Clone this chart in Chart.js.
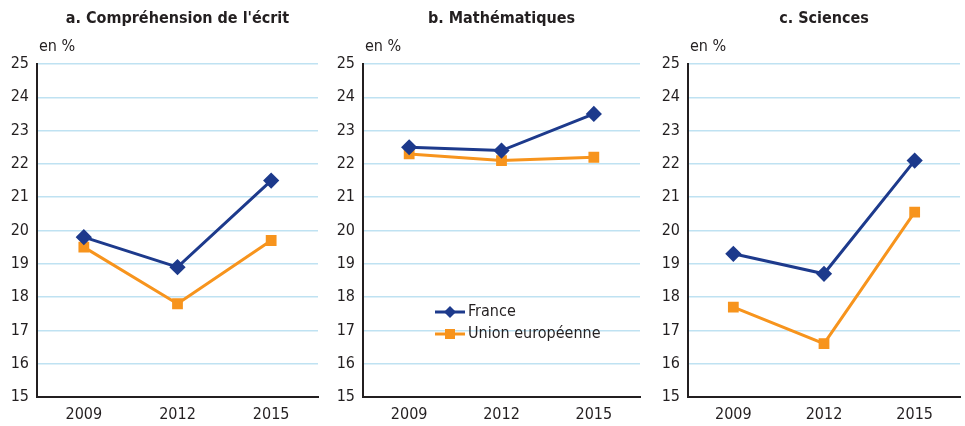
<!DOCTYPE html>
<html>
<head>
<meta charset="utf-8">
<script src="https://cdn.jsdelivr.net/npm/chart.js@4/dist/chart.umd.min.js"></script>
<style>
  html, body { margin: 0; padding: 0; background: #fff; }
  body { width: 965px; height: 426px; position: relative; overflow: hidden; }
  .panel { position: absolute; top: 0; height: 426px; }
</style>
</head>
<body>
<div class="panel" style="left:0;width:327px"><canvas id="g1"></canvas></div>
<div class="panel" style="left:325px;width:324px"><canvas id="g2"></canvas></div>
<div class="panel" style="left:650px;width:319px"><canvas id="g3"></canvas></div>
<script>
const annees = ["2009", "2012", "2015"];
const titres = ["a. Compréhension de l'écrit", "b. Mathématiques", "c. Sciences"];

const franceLecture = [19.8, 18.9, 21.5];
const ueLecture = [19.5, 17.8, 19.7];
const franceMaths = [22.5, 22.4, 23.5];
const ueMaths = [22.3, 22.1, 22.2];
const franceSciences = [19.3, 18.7, 22.1];
const ueSciences = [17.7, 16.6, 20.55];

const police = "'Liberation Sans Narrow', 'Arial Narrow', 'DejaVu Sans Condensed', sans-serif";
const bleu = "#1d3a8c";
const orange = "#f7941d";

// titre du panneau, "en %" et légende (panneau b)
const decor = {
  id: "decor",
  afterDraw(chart, args, opts) {
    const c = chart.ctx;
    const a = chart.chartArea;
    c.save();
    c.fillStyle = "#231f20";
    c.font = "bold 16px " + police;
    c.textAlign = "center";
    c.textBaseline = "middle";
    c.fillText(opts.titre, (a.left + a.right) / 2, 19);
    c.font = "16px " + police;
    c.textAlign = "left";
    c.fillText("en %", a.left + 2, 47);
    if (opts.legende) {
      chart.data.datasets.forEach((ds, i) => {
        const x = 110, y = 312 + i * 22;
        c.strokeStyle = ds.borderColor;
        c.lineWidth = 3;
        c.beginPath();
        c.moveTo(x, y);
        c.lineTo(x + 30, y);
        c.stroke();
        c.fillStyle = ds.borderColor;
        const cx = x + 15;
        c.beginPath();
        if (ds.pointStyle === "rectRot") {
          c.moveTo(cx, y - 6); c.lineTo(cx + 6, y); c.lineTo(cx, y + 6); c.lineTo(cx - 6, y);
        } else {
          c.rect(cx - 5, y - 5, 10, 10);
        }
        c.fill();
        c.fillStyle = "#231f20";
        c.fillText(ds.label, x + 33, y);
      });
    }
    c.restore();
  }
};

function tracer(id, titre, france, ue, largeurAxe, legende) {
  new Chart(document.getElementById(id), {
    type: "line",
    data: {
      labels: annees,
      datasets: [
        {
          label: "France",
          data: france,
          borderColor: bleu,
          backgroundColor: bleu,
          borderWidth: 3,
          pointStyle: "rectRot",
          pointRadius: 6,
          pointHoverRadius: 6
        },
        {
          label: "Union européenne",
          data: ue,
          borderColor: orange,
          backgroundColor: orange,
          borderWidth: 3,
          pointStyle: "rect",
          pointRadius: 5.5,
          pointHoverRadius: 5.5
        }
      ]
    },
    options: {
      responsive: true,
      maintainAspectRatio: false,
      animation: false,
      layout: { padding: { top: 64, right: 0, left: 0, bottom: 0 } },
      plugins: {
        legend: { display: false },
        tooltip: { enabled: false },
        decor: { titre: titre, legende: legende }
      },
      scales: {
        x: {
          offset: true,
          grid: { display: false, drawTicks: false },
          border: { color: "#231f20", width: 2 },
          ticks: { color: "#231f20", font: { family: police, size: 16 }, padding: 8 },
          afterFit(s) { s.height = 29; }
        },
        y: {
          min: 15,
          max: 25,
          ticks: { stepSize: 1, color: "#231f20", font: { family: police, size: 16 }, padding: 8 },
          grid: { color: "#bfe2f2", lineWidth: 1.5, drawTicks: false },
          border: { color: "#231f20", width: 2 },
          afterFit(s) { s.width = largeurAxe; }
        }
      }
    },
    plugins: [decor]
  });
}

tracer("g1", titres[0], franceLecture, ueLecture, 37, false);
tracer("g2", titres[1], franceMaths, ueMaths, 38, true);
tracer("g3", titres[2], franceSciences, ueSciences, 38, false);
</script>
</body>
</html>
